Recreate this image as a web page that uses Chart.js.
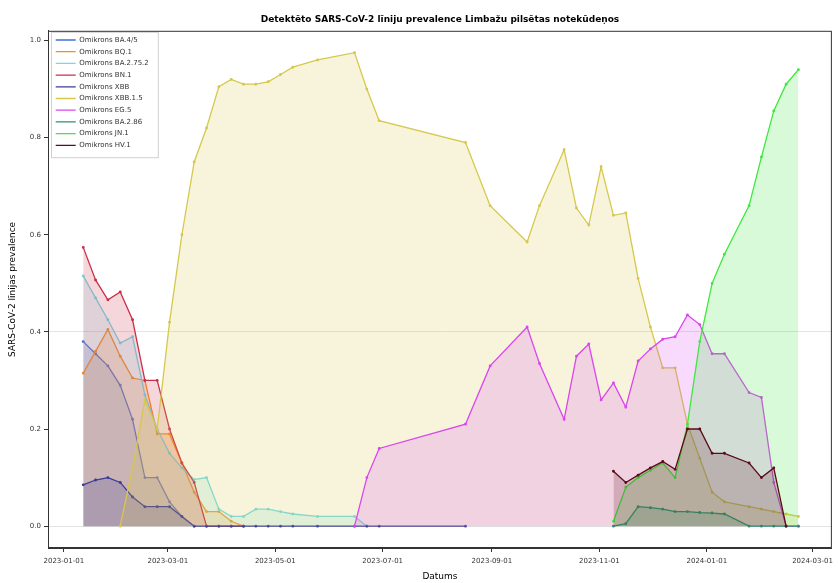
<!DOCTYPE html>
<html>
<head>
<meta charset="utf-8">
<script src="https://cdn.jsdelivr.net/npm/chart.js@4.4.1/dist/chart.umd.min.js"></script>
<style>
  html, body { margin: 0; background: #fff; }
  #wrap { width: 838px; height: 583px; }
</style>
</head>
<body>
<div id="wrap"><canvas id="chart"></canvas></div>
<script>
const N = null;

// sampling dates (weekly, with some gaps)
const sampleDates = [
  "2023-01-12", "2023-01-19", "2023-01-26", "2023-02-02", "2023-02-09", "2023-02-16", "2023-02-23",
  "2023-03-02", "2023-03-09", "2023-03-16", "2023-03-23", "2023-03-30", "2023-04-06", "2023-04-13",
  "2023-04-20", "2023-04-27", "2023-05-04", "2023-05-11", "2023-05-25", "2023-06-15", "2023-06-22",
  "2023-06-29", "2023-08-17", "2023-08-31", "2023-09-21", "2023-09-28", "2023-10-12", "2023-10-19",
  "2023-10-26", "2023-11-02", "2023-11-09", "2023-11-16", "2023-11-23", "2023-11-30", "2023-12-07",
  "2023-12-14", "2023-12-21", "2023-12-28", "2024-01-04", "2024-01-11", "2024-01-25", "2024-02-01",
  "2024-02-08", "2024-02-15", "2024-02-22"
];

const tickDates = ["2023-01-01", "2023-03-01", "2023-05-01", "2023-07-01",
                   "2023-09-01", "2023-11-01", "2024-01-01", "2024-03-01"];
const yTicks = [0.0, 0.2, 0.4, 0.6, 0.8, 1.0];

const lineageNames = [
  "Omikrons BA.4/5", "Omikrons BQ.1", "Omikrons BA.2.75.2", "Omikrons BN.1", "Omikrons XBB",
  "Omikrons XBB.1.5", "Omikrons EG.5", "Omikrons BA.2.86", "Omikrons JN.1", "Omikrons HV.1"
];

const ba45 = [0.38, 0.355, 0.33, 0.29, 0.22, 0.10, 0.10, 0.05, 0.02, 0.00,
  N, N, N, N, N, N, N, N, N, N, N, N, N, N, N, N, N, N, N, N, N, N, N, N, N, N, N, N, N, N, N, N, N, N, N];
const bq1 = [0.315, 0.36, 0.405, 0.35, 0.305, 0.30, 0.19, 0.19, 0.13, 0.07, 0.03, 0.03, 0.01, 0.00,
  N, N, N, N, N, N, N, N, N, N, N, N, N, N, N, N, N, N, N, N, N, N, N, N, N, N, N, N, N, N, N];
const ba2752 = [0.515, 0.47, 0.425, 0.377, 0.39, 0.27, 0.20, 0.15, 0.12, 0.096, 0.10, 0.035, 0.02, 0.02,
  0.035, 0.035, 0.03, 0.025, 0.02, 0.02, 0.00,
  N, N, N, N, N, N, N, N, N, N, N, N, N, N, N, N, N, N, N, N, N, N, N, N];
const bn1 = [0.574, 0.507, 0.466, 0.482, 0.425, 0.30, 0.30, 0.20, 0.13, 0.09, 0.00, 0.00, 0.00, 0.00,
  N, N, N, N, N, N, N, N, N, N, N, N, N, N, N, N, N, N, N, N, N, N, N, N, N, N, N, N, N, N, N];
const xbb = [0.085, 0.095, 0.10, 0.09, 0.06, 0.04, 0.04, 0.04, 0.02, 0.00, 0, 0, 0, 0, 0, 0, 0, 0, 0, 0, 0, 0, 0,
  N, N, N, N, N, N, N, N, N, N, N, N, N, N, N, N, N, N, N, N, N, N];
const xbb15 = [N, N, N, 0.00, 0.12, 0.26, 0.20, 0.42, 0.60, 0.75, 0.82, 0.905, 0.92, 0.91, 0.91, 0.915,
  0.93, 0.945, 0.96, 0.975, 0.90, 0.835, 0.79, 0.66, 0.585, 0.66, 0.775, 0.655, 0.62, 0.74, 0.64, 0.645,
  0.51, 0.41, 0.326, 0.326, 0.21, 0.14, 0.07, 0.05, 0.04, 0.035, 0.03, 0.025, 0.02];
const eg5 = [N, N, N, N, N, N, N, N, N, N, N, N, N, N, N, N, N, N, N,
  0.00, 0.10, 0.16, 0.21, 0.33, 0.41, 0.335, 0.22, 0.35, 0.375, 0.26, 0.295, 0.245, 0.34, 0.365,
  0.385, 0.39, 0.435, 0.415, 0.355, 0.355, 0.275, 0.265, 0.09, 0.00, 0.00];
const ba286 = [N, N, N, N, N, N, N, N, N, N, N, N, N, N, N, N, N, N, N, N, N, N, N, N, N, N, N, N, N, N,
  0.00, 0.005, 0.04, 0.038, 0.035, 0.03, 0.03, 0.028, 0.027, 0.025, 0.00, 0.00, 0.00, 0.00, 0.00];
const jn1 = [N, N, N, N, N, N, N, N, N, N, N, N, N, N, N, N, N, N, N, N, N, N, N, N, N, N, N, N, N, N,
  0.01, 0.08, 0.10, 0.115, 0.13, 0.10, 0.21, 0.38, 0.50, 0.56, 0.66, 0.76, 0.855, 0.91, 0.94];
const hv1 = [N, N, N, N, N, N, N, N, N, N, N, N, N, N, N, N, N, N, N, N, N, N, N, N, N, N, N, N, N, N,
  0.113, 0.09, 0.105, 0.12, 0.133, 0.117, 0.20, 0.20, 0.15, 0.15, 0.13, 0.10, 0.12, 0.00, N];

const seriesValues = [ba45, bq1, ba2752, bn1, xbb, xbb15, eg5, ba286, jn1, hv1];
const lineColors = ["#3f6fd8", "#ff8c1a", "#72dbe8", "#c8304a", "#3b3b98",
                    "#d6c84a", "#d946ef", "#2e8b7a", "#3ee83e", "#5a0c18"];

const DAY = 86400000;
const t0 = Date.parse("2023-01-01");
const toDay = s => (Date.parse(s) - t0) / DAY;

function hexA(hex, a) {
  const n = parseInt(hex.slice(1), 16);
  return `rgba(${n >> 16},${(n >> 8) & 255},${n & 255},${a})`;
}

const datasets = seriesValues.map((vals, i) => ({
  label: lineageNames[i],
  data: sampleDates.map((d, j) => ({ x: toDay(d), y: vals[j] })).filter(p => p.y !== null),
  borderColor: lineColors[i],
  backgroundColor: hexA(lineColors[i], 0.2),
  pointBackgroundColor: lineColors[i],
  pointBorderColor: lineColors[i],
  borderWidth: 1.3,
  pointRadius: 0.8,
  pointBorderWidth: 1.3,
  fill: "origin",
  tension: 0,
  order: seriesValues.length - i
}));

// put the legend in the upper left corner of the plot and give it a frame,
// draw the full axes frame like matplotlib
const legendAndFrame = {
  id: "legendAndFrame",
  afterLayout(chart) {
    const lg = chart.legend, a = chart.chartArea;
    const pad = lg.options.labels.padding;
    const h = lg.columnSizes[0].height + pad * 2;
    lg.left = a.left + 3;
    lg.top = a.top + 1;
    lg.right = lg.left + lg.width;
    lg.height = h;
    lg.bottom = lg.top + h;
  },
  beforeDraw(chart) {
    const lg = chart.legend, c = chart.ctx;
    c.save();
    c.fillStyle = "rgba(255,255,255,0.85)";
    c.strokeStyle = "#d0d0d0";
    c.lineWidth = 1;
    c.fillRect(lg.left, lg.top, lg.width, lg.height);
    c.strokeRect(lg.left + 0.5, lg.top + 0.5, lg.width - 1, lg.height - 1);
    c.restore();
  },
  afterDraw(chart) {
    const a = chart.chartArea, c = chart.ctx;
    c.save();
    c.strokeStyle = "#333";
    c.lineWidth = 1;
    c.strokeRect(a.left + 0.5, a.top + 0.5, a.right - a.left - 1, a.bottom - a.top - 1);
    c.restore();
  }
};

const font = "'DejaVu Sans', sans-serif";

new Chart(document.getElementById("chart"), {
  type: "line",
  data: { datasets },
  plugins: [legendAndFrame],
  options: {
    responsive: true,
    maintainAspectRatio: false,
    animation: false,
    layout: { padding: { right: 2 } },
    plugins: {
      title: {
        display: true,
        fullSize: false,
        text: "Detektēto SARS-CoV-2 līniju prevalence Limbažu pilsētas notekūdeņos",
        color: "#000",
        font: { family: font, size: 9, weight: "bold" },
        padding: { top: 14, bottom: 6 }
      },
      legend: {
        position: "chartArea",
        align: "start",
        labels: {
          usePointStyle: true,
          pointStyle: "line",
          pointStyleWidth: 20,
          boxHeight: 7,
          padding: 4.7,
          color: "#333",
          font: { family: font, size: 7 },
          sort: (a, b) => a.datasetIndex - b.datasetIndex
        }
      },
      tooltip: { enabled: false }
    },
    scales: {
      x: {
        type: "linear",
        min: -9,
        max: 436,
        afterBuildTicks: s => { s.ticks = tickDates.map(d => ({ value: toDay(d) })); },
        afterFit: s => { s.height = 35; },
        ticks: {
          autoSkip: false,
          maxRotation: 0,
          color: "#333",
          font: { family: font, size: 7 },
          padding: 5,
          callback: (v, i) => tickDates[i]
        },
        grid: { drawOnChartArea: false, tickLength: 4, tickColor: "#333" },
        border: { color: "#333" },
        title: {
          display: true,
          text: "Datums",
          color: "#000",
          font: { family: font, size: 9 },
          padding: { top: 0, bottom: 1 }
        }
      },
      y: {
        min: -0.045,
        max: 1.02,
        afterBuildTicks: s => { s.ticks = yTicks.map(v => ({ value: v })); },
        afterFit: s => { s.width = 48; },
        ticks: {
          color: "#333",
          font: { family: font, size: 7 },
          padding: 3,
          callback: v => v.toFixed(1)
        },
        grid: {
          tickLength: 4,
          tickColor: "#333",
          color: ctx => (ctx.tick && (ctx.tick.value === 0 || ctx.tick.value === 0.4)) ? "#e4e4e4" : "rgba(0,0,0,0)"
        },
        border: { color: "#333" },
        title: {
          display: true,
          text: "SARS-CoV-2 līnijas prevalence",
          color: "#000",
          font: { family: font, size: 9 },
          padding: { top: 7, bottom: 0 }
        }
      }
    }
  }
});
</script>
</body>
</html>
